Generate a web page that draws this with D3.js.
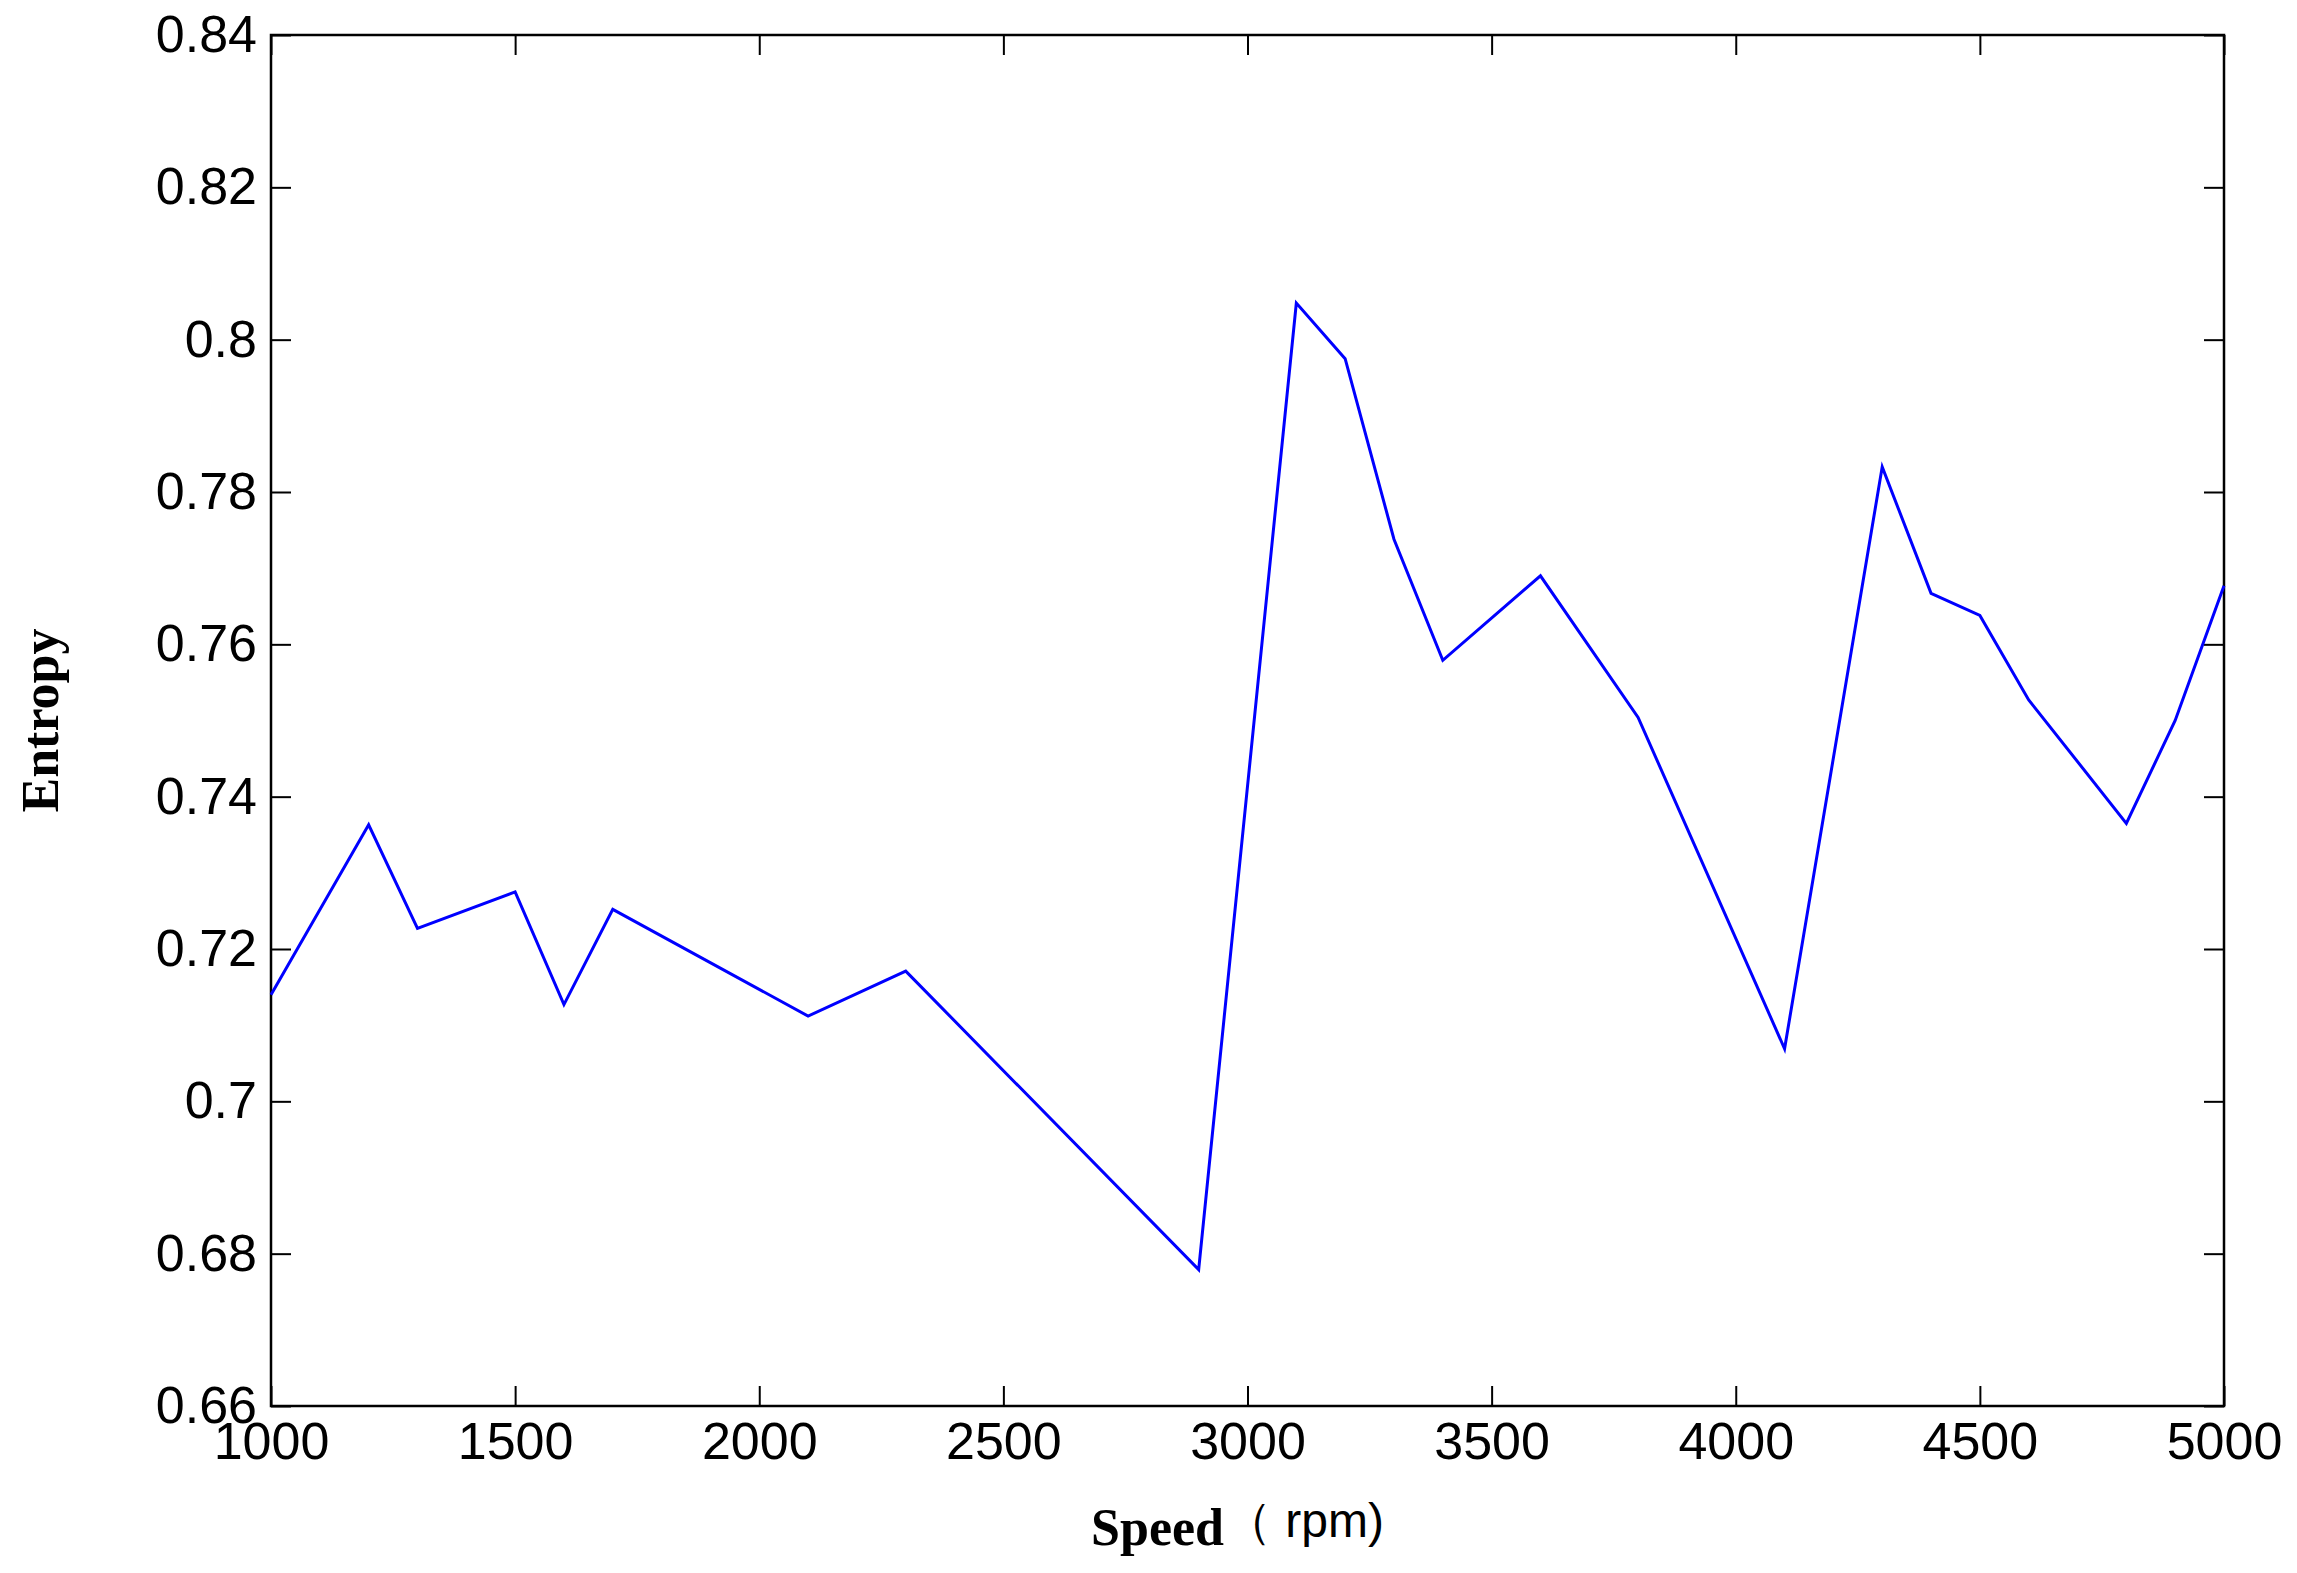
<!DOCTYPE html>
<html>
<head>
<meta charset="utf-8">
<script src="https://cdn.jsdelivr.net/npm/d3@7"></script>
<style>
  body { margin: 0; background: #fff; }
  text { fill: #000; }
</style>
</head>
<body>
<div class="chart"></div>
<script>
// Width and height
const w = 2297;
const h = 1573;
const margin = { left: 271, top: 35, right: 2297 - 2224, bottom: 1573 - 1406 };

// data
const speeds = [1000, 1200, 1300, 1500, 1600, 1700, 2100, 2300, 2900, 3100, 3200, 3300,
  3400, 3600, 3800, 4100, 4300, 4400, 4500, 4600, 4800, 4900, 5000];
const entropy = [0.714, 0.7363, 0.7227, 0.7275, 0.7127, 0.7252, 0.7112, 0.7171, 0.6779,
  0.8048, 0.7975, 0.7738, 0.7579, 0.769, 0.7504, 0.7069, 0.7833, 0.7667, 0.7638, 0.7527,
  0.7365, 0.75, 0.7677];
const xTicks = [1000, 1500, 2000, 2500, 3000, 3500, 4000, 4500, 5000];
const yTicks = [0.66, 0.68, 0.7, 0.72, 0.74, 0.76, 0.78, 0.8, 0.82, 0.84];

const svg = d3.select(".chart").append("svg").attr("width", w).attr("height", h);

const x = d3.scaleLinear().domain([1000, 5000]).range([margin.left, w - margin.right]);
const y = d3.scaleLinear().domain([0.66, 0.84]).range([h - margin.bottom, margin.top]);

const fmt = (d) => d3.format("")(+d.toFixed(2));
const tickLen = 20;

// axes, ticks pointing inward, mirrored on opposite sides
const axisStyle = (g) => {
  g.select(".domain").remove();
  g.selectAll("line").attr("stroke", "#000").attr("stroke-width", 2);
  g.selectAll("text").attr("font-family", "Liberation Sans, Arial, sans-serif").attr("font-size", 52);
};

svg.append("g")
  .attr("transform", `translate(0,${h - margin.bottom})`)
  .call(d3.axisBottom(x).tickValues(xTicks).tickSize(-tickLen).tickPadding(16).tickFormat(d3.format("d")))
  .call(axisStyle);
svg.append("g")
  .attr("transform", `translate(0,${margin.top})`)
  .call(d3.axisTop(x).tickValues(xTicks).tickSize(-tickLen).tickFormat(""))
  .call(axisStyle);
svg.append("g")
  .attr("transform", `translate(${margin.left},0)`)
  .call(d3.axisLeft(y).tickValues(yTicks).tickSize(-tickLen).tickPadding(14).tickFormat(fmt))
  .call(axisStyle);
svg.append("g")
  .attr("transform", `translate(${w - margin.right},0)`)
  .call(d3.axisRight(y).tickValues(yTicks).tickSize(-tickLen).tickFormat(""))
  .call(axisStyle);

// frame
svg.append("rect")
  .attr("x", margin.left).attr("y", margin.top)
  .attr("width", w - margin.left - margin.right)
  .attr("height", h - margin.top - margin.bottom)
  .attr("fill", "none").attr("stroke", "#000").attr("stroke-width", 2.5);

// the line
const line = d3.line().x((d, i) => x(speeds[i])).y((d) => y(d));
svg.append("path")
  .datum(entropy)
  .attr("d", line)
  .attr("fill", "none")
  .attr("stroke", "#0000ff")
  .attr("stroke-width", 3);

// axis titles
const xt = svg.append("text")
  .attr("x", (margin.left + w - margin.right) / 2 - 10)
  .attr("y", 1545)
  .attr("text-anchor", "middle");
xt.append("tspan").attr("font-family", "Liberation Serif, Times New Roman, serif")
  .attr("font-weight", "bold").attr("font-size", 52).text("Speed");
xt.append("tspan").attr("font-family", "Liberation Sans, Arial, sans-serif")
  .attr("font-size", 48).attr("dy", -8).text("（ rpm)");

svg.append("text")
  .attr("transform", `translate(58,${(margin.top + h - margin.bottom) / 2}) rotate(-90)`)
  .attr("text-anchor", "middle")
  .attr("font-family", "Liberation Serif, Times New Roman, serif")
  .attr("font-weight", "bold")
  .attr("font-size", 52)
  .text("Entropy");
</script>
</body>
</html>
